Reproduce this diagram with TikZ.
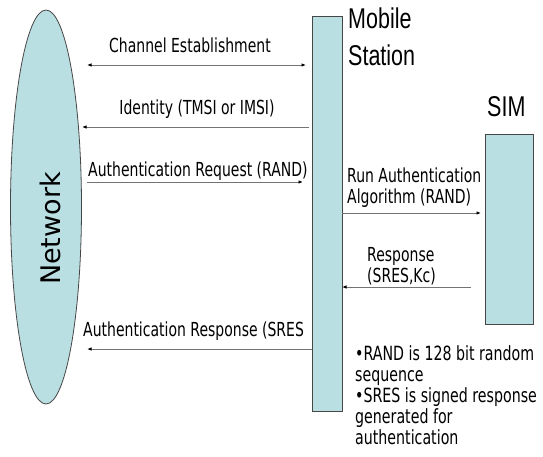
\documentclass[tikz,border=0pt]{standalone}
\usepackage{fontspec}
\setmainfont{DejaVu Sans}
\newfontfamily\arialfont{Liberation Sans}
\usetikzlibrary{shapes.geometric,arrows.meta}
\definecolor{boxfill}{RGB}{186,223,227}
\definecolor{edgecol}{RGB}{70,70,70}
\definecolor{msgline}{RGB}{115,115,115}
\newcommand\vst[1]{\scalebox{1}[1.38]{#1}}
\newcommand\vsth[1]{\scalebox{1}[1.33]{#1}}
\begin{document}
\begin{tikzpicture}[x=1pt,y=-1pt,
  >={Latex[length=4.5pt,width=3.5pt,color=black]},
  entity/.style={draw=edgecol, line width=0.8pt, fill=boxfill, inner sep=0pt, outer sep=0pt},
  msg/.style={draw=msgline, line width=1pt},
  lbl/.style={anchor=base west, inner sep=0pt, font=\fontsize{14}{16}\selectfont},
  note/.style={anchor=base west, inner sep=0pt, font=\fontsize{14.2}{16}\selectfont},
  heading/.style={anchor=base west, inner sep=0pt, font=\arialfont\fontsize{21.5}{24}\selectfont}]
\useasboundingbox (0,0) rectangle (543,456);

% entities
\node[entity, ellipse, minimum width=71pt, minimum height=394pt] (net) at (46,207) {};
\node[entity, rectangle, minimum width=30pt, minimum height=395pt] (ms) at (327,213.5) {};
\node[entity, rectangle, minimum width=48pt, minimum height=190pt] (sim) at (509,229) {};

\node[rotate=90, anchor=base, inner sep=0pt, font=\fontsize{27}{30}\selectfont] (nettext) at (60,228.5) {Network};
\node[heading] (mst1) at (348,28) {\vsth{Mobile}};
\node[heading] (mst2) at (348,65) {\vsth{Station}};
\node[heading] (simt) at (487,116) {\vsth{SIM}};

% message end points
\coordinate (m1a) at (87,65);   \coordinate (m1b) at (306,65);
\coordinate (m2a) at (309,127); \coordinate (m2b) at (82,127);
\coordinate (m3a) at (87,182);  \coordinate (m3b) at (303,182);
\coordinate (m4a) at (342,213); \coordinate (m4b) at (481,213);
\coordinate (m5a) at (471,287); \coordinate (m5b) at (342,287);
\coordinate (m6a) at (312,349); \coordinate (m6b) at (87,349);

\draw[msg, <->] (m1a) -- (m1b);
\draw[msg, ->] (m2a) -- (m2b);
\draw[msg, ->] (m3a) -- (m3b);
\draw[msg, ->] (m4a) -- (m4b);
\draw[msg, ->] (m5a) -- (m5b);
\draw[msg, ->] (m6a) -- (m6b);

% message labels
\node[lbl, anchor=base] (l1) at (190,52) {\vst{Channel Establishment}};
\node[lbl, anchor=base] (l2) at (197,114.5) {\vst{Identity (TMSI or IMSI)}};
\node[lbl] (l3) at (88,176) {\vst{Authentication Request (RAND)}};
\node[lbl] (l4a) at (347,182) {\vst{Run Authentication}};
\node[lbl] (l4b) at (347,203) {\vst{Algorithm (RAND)}};
\node[lbl] (l5a) at (367,261.5) {\vst{Response}};
\node[lbl] (l5b) at (367,282) {\vst{(SRES,Kc)}};
\node[lbl] (l6) at (83,336) {\vst{Authentication Response (SRES}};

% notes
\node[note] (n1) at (355,360) {\vst{•RAND is 128 bit random}};
\node[note] (n2) at (355,381) {\vst{sequence}};
\node[note] (n3) at (355,402) {\vst{•SRES is signed response}};
\node[note] (n4) at (355,423) {\vst{generated for}};
\node[note] (n5) at (355,444) {\vst{authentication}};
\end{tikzpicture}
\end{document}
